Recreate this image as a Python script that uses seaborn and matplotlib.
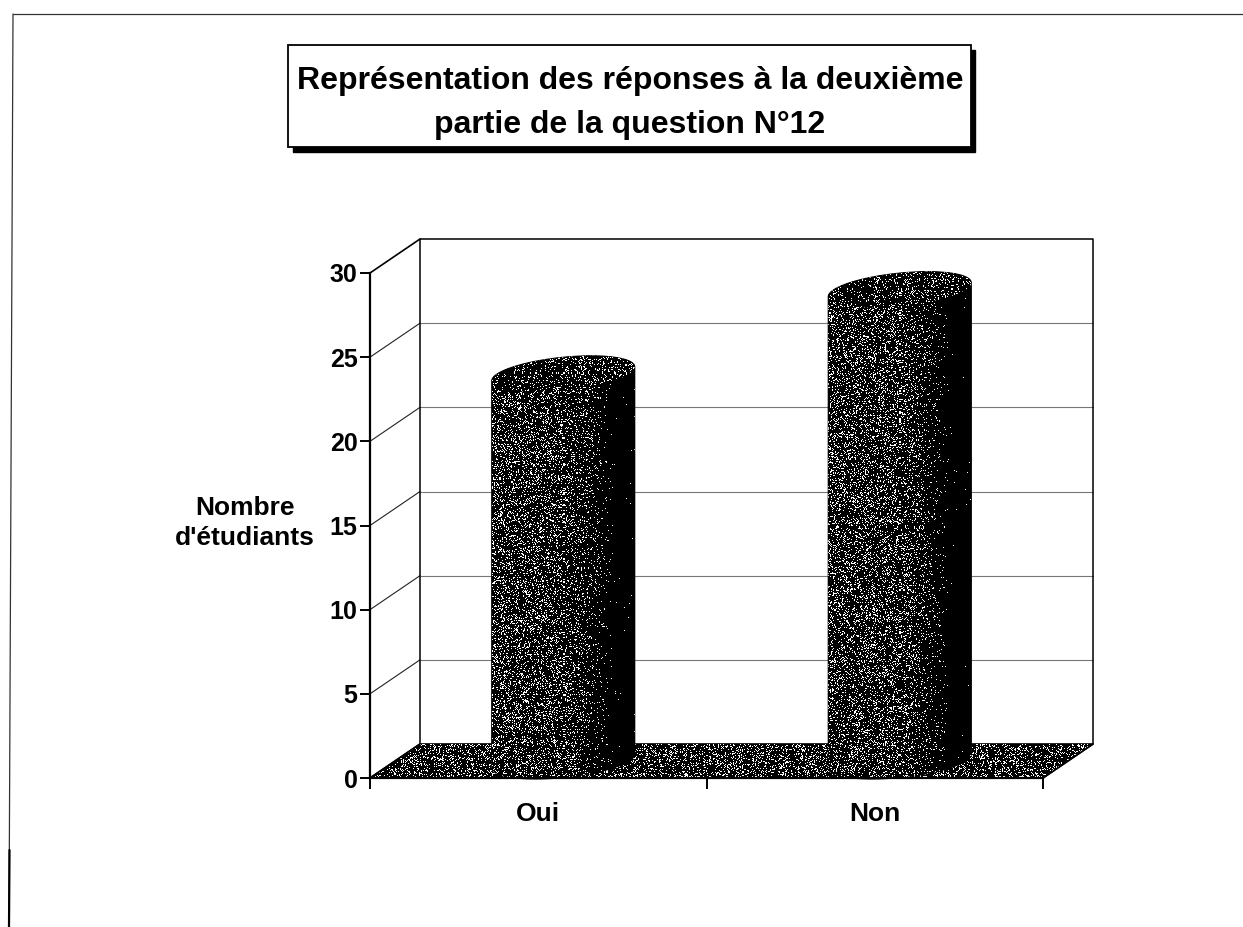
import numpy as np
import pandas as pd
import matplotlib
matplotlib.use("Agg")
import matplotlib.pyplot as plt
import matplotlib.transforms as mtrans
from matplotlib.lines import Line2D
from matplotlib.patches import PathPatch, Polygon, Rectangle
from matplotlib.path import Path
import seaborn as sns

categories = ["Oui", "Non"]
reponses = [23, 28]
y_ticks = [0, 5, 10, 15, 20, 25, 30]
titre = "Représentation des réponses à la deuxième\npartie de la question N°12"
y_label = "Nombre\nd'étudiants"

W, H = 1243, 927
DX, DY = 50, 34   # depth of the fake 3d box, in pixels

sns.set_theme(style="white")
plt.rcParams["font.family"] = ["Liberation Sans", "DejaVu Sans"]
plt.rcParams["font.weight"] = "bold"


def px(x, y):
    return x / W, 1 - y / H


fig = plt.figure(figsize=(W / 100, H / 100), dpi=100, facecolor="white")
ax = fig.add_axes([370 / W, (H - 778) / H, 673 / W, 505 / H])
ax.set_facecolor("none")

df = pd.DataFrame({"reponse": categories, "etudiants": reponses})
sns.barplot(data=df, x="reponse", y="etudiants", color="black", width=0.425,
            saturation=1, ax=ax, zorder=4)

ax.set_xlim(-0.5, 1.5)
ax.set_ylim(0, 30)
unit_x = 673 / 2
unit_y = 505 / 30

back = ax.transData + mtrans.Affine2D().translate(DX, DY)
middle = ax.transData + mtrans.Affine2D().translate(DX * 0.5, DY * 0.5)


def stipple(extent, density, transform, clip, zorder):
    # speckled print texture, density is a function of u (0 left, 1 right)
    x0, x1, y0, y1 = extent
    nx = int((x1 - x0) * unit_x)
    ny = int((y1 - y0) * unit_y)
    jj, ii = np.meshgrid(np.arange(nx), np.arange(ny))
    noise = np.sin(jj * 12.9898 + ii * 78.233 + x0 * 7.1) * 43758.5453
    noise = noise - np.floor(noise)
    u = (jj + 0.5) / nx
    img = (noise < density(u)).astype(float)
    im = ax.imshow(img, extent=extent, cmap="gray", vmin=0, vmax=1, aspect="auto",
                   interpolation="nearest", transform=transform, zorder=zorder)
    im.set_clip_path(clip)
    im.set_clip_box(fig.bbox)  # the floor runs past the axes
    return im


# floor
floor = Polygon([(-0.5, 0), (1.5, 0), (1.5 + DX / unit_x, DY / unit_y), (-0.5 + DX / unit_x, DY / unit_y)],
                closed=True, facecolor="black", edgecolor="black", lw=1.2,
                transform=ax.transData, zorder=1, clip_on=False)
ax.add_patch(floor)
stipple((-0.5, 1.5 + DX / unit_x, 0, DY / unit_y), lambda u: 0.2 + 0 * u, ax.transData, floor, 2)

# back wall
for t in y_ticks[1:-1]:
    ax.plot([-0.5, 1.5], [t, t], color="#777777", lw=0.8, transform=back, zorder=1, clip_on=False)
    ax.plot([-0.5, -0.5 + DX / unit_x], [t, t + DY / unit_y], color="#222222", lw=0.8, zorder=1, clip_on=False)
ax.plot([-0.5, -0.5, 1.5, 1.5], [0, 30, 30, 0], color="black", lw=1.1, transform=back, zorder=1, clip_on=False)
for y0 in (0, 30):
    ax.plot([-0.5, -0.5 + DX / unit_x], [y0, y0 + DY / unit_y], color="black", lw=1.2, zorder=3, clip_on=False)
ax.plot([1.5, 1.5 + DX / unit_x], [0, DY / unit_y], color="black", lw=1.2, zorder=3, clip_on=False)

# cylinders, built from the bars seaborn drew
t_top = np.linspace(0, np.pi, 60)
t_bot = np.linspace(np.pi, 2 * np.pi, 60)
SK = 7 / unit_y
B = 16.6 / unit_y

for bar in [p for p in ax.patches if isinstance(p, Rectangle)]:
    x0, w, h = bar.get_x(), bar.get_width(), bar.get_height()
    xc = x0 + w / 2
    top = np.c_[xc + w / 2 * np.cos(t_top), h + SK * np.cos(t_top) + B * np.sin(t_top)]
    bot = np.c_[xc + w / 2 * np.cos(t_bot), SK * np.cos(t_bot) + B * np.sin(t_bot)]
    shape = PathPatch(Path(np.r_[top, bot, top[:1]], closed=True), facecolor="black",
                      edgecolor="black", lw=0.8, transform=middle, zorder=4, clip_on=False)
    ax.add_patch(shape)
    bar.set_transform(middle)
    bar.set_clip_path(shape)

    t_all = np.linspace(0, 2 * np.pi, 120)
    cap = PathPatch(Path(np.c_[xc + w / 2 * np.cos(t_all), h + SK * np.cos(t_all) + B * np.sin(t_all)], closed=True),
                    facecolor="none", edgecolor="none", transform=middle, zorder=6, clip_on=False)
    ax.add_patch(cap)

    stipple((x0, x0 + w, -B - SK, h + B + SK),
            lambda u: np.clip(0.19 * (0.85 - u) / 0.35, 0.004, 0.19),
            middle, shape, 5)
    stipple((x0, x0 + w, h - B - SK, h + B + SK),
            lambda u: 0.10 + 0.08 * u,
            middle, cap, 6)

ax.set_xlim(-0.5, 1.5)
ax.set_ylim(0, 30)

# axes
sns.despine(ax=ax)
for side in ("left", "bottom"):
    ax.spines[side].set_linewidth(1.6)
    ax.spines[side].set_color("black")
    ax.spines[side].set_zorder(8)
ax.set_yticks(y_ticks)
ax.set_xticks([-0.5, 0.5, 1.5], labels=[])
ax.set_xticks([0, 1], labels=categories, minor=True)
ax.tick_params(axis="y", which="major", left=True, length=7.5, width=1.4, color="black",
               labelsize=18, pad=1.5, labelcolor="black")
ax.tick_params(axis="x", which="major", bottom=True, length=8, width=1.4, color="black")
ax.tick_params(axis="x", which="minor", bottom=False, length=0, pad=17, labelsize=19, labelcolor="black")
ax.set_xlabel("")
ax.set_ylabel("")
fig.text(*px(245, 523), y_label, ha="center", va="center", fontsize=19, fontweight="bold",
         color="black", linespacing=1.3)

# title box with its shadow
x0, y1 = px(293, 152)
x1, y0 = px(975, 50)
fig.add_artist(Rectangle((x0, y1), x1 - x0, y0 - y1, transform=fig.transFigure, facecolor="black", edgecolor="black"))
x0, y1 = px(288, 147)
x1, y0 = px(971, 45)
fig.add_artist(Rectangle((x0, y1), x1 - x0, y0 - y1, transform=fig.transFigure, facecolor="white", edgecolor="black", lw=1.3))
fig.text(*px(630, 103), titre, ha="center", va="center", fontsize=23, fontweight="bold",
         color="black", linespacing=1.65)

# page frame from the scan, it leans a little and gets heavier at the bottom
fig.add_artist(Line2D([px(13, 0)[0], 1], [px(0, 14)[1]] * 2, transform=fig.transFigure, color="#333333", lw=0.9))
fig.add_artist(Line2D([px(13, 0)[0], px(9, 0)[0]], [px(0, 14)[1], 0], transform=fig.transFigure, color="#333333", lw=0.9))
fig.add_artist(Line2D([px(9.5, 0)[0], px(9, 0)[0]], [px(0, 850)[1], 0], transform=fig.transFigure, color="black", lw=1.6))

fig.savefig("out.png", dpi=100)
